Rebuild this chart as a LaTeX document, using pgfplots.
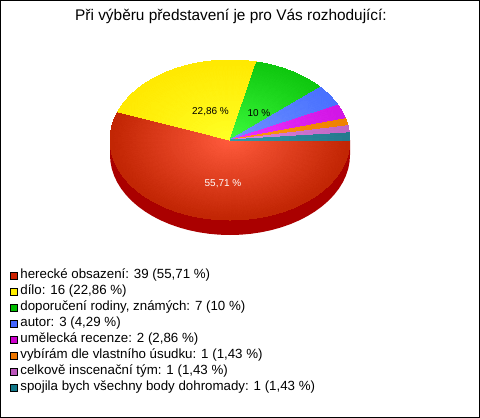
\documentclass[border=0pt]{standalone}
\usepackage{fontspec}
\setmainfont{Liberation Sans}
\usepackage{pgfplots}
\pgfplotsset{compat=1.18}
\definecolor{ri}{RGB}{255,90,60}\definecolor{ro}{RGB}{192,36,2}
\definecolor{yi}{RGB}{255,255,36}\definecolor{yo}{RGB}{255,232,0}
\definecolor{gi}{RGB}{60,250,60}\definecolor{go}{RGB}{14,198,14}
\definecolor{bi}{RGB}{112,146,255}\definecolor{bo}{RGB}{72,112,255}
\definecolor{mi}{RGB}{238,52,255}\definecolor{mo}{RGB}{208,20,228}
\definecolor{oi}{RGB}{255,153,17}\definecolor{oo}{RGB}{238,128,0}
\definecolor{pi}{RGB}{222,136,222}\definecolor{po}{RGB}{190,100,196}
\definecolor{ti}{RGB}{51,153,170}\definecolor{to}{RGB}{34,120,140}
\definecolor{side}{RGB}{170,0,0}
\definecolor{lr}{RGB}{204,34,0}\definecolor{ly}{RGB}{255,238,0}
\definecolor{lg}{RGB}{0,187,0}\definecolor{lb}{RGB}{68,102,255}
\definecolor{lm}{RGB}{204,0,204}\definecolor{lo}{RGB}{238,119,0}
\definecolor{lp}{RGB}{187,85,187}\definecolor{lt}{RGB}{17,119,136}
\begin{document}
\begin{tikzpicture}
\begin{axis}[
  scale only axis, width=479pt, height=417pt,
  xmin=0.5, xmax=479.5, ymin=0.5, ymax=417.5, y dir=reverse,
  xtick=\empty, ytick=\empty, axis line style={line width=1pt, black},
  title={\fontsize{15.4}{18}\selectfont Při výběru představení je pro Vás rozhodující:},
  title style={at={(axis cs:231,22)}, anchor=center, inner sep=0pt, yshift=0pt},
  legend style={at={(axis cs:9.6,267.5)}, anchor=north west, draw=none, fill=none, inner sep=0pt, outer sep=0pt,
    font=\fontsize{13.3}{15}\selectfont, row sep=0pt, column sep=3pt,
    nodes={inner sep=0pt, text height=10.5pt, text depth=5.5pt}},
  legend cell align=left,
]
% side of the pie (rim of the red slice)
\addplot[draw=none, fill=side, forget plot] table[row sep=\\] {
x y\\
350 140\\350 155\\349.54 161.97\\348.18 168.89\\345.91 175.71\\342.76 182.36\\338.76 188.81\\333.92 195\\328.30 200.89\\321.93 206.42\\314.85 211.57\\307.13 216.28\\298.83 220.53\\290 224.28\\280.71 227.50\\271.04 230.18\\261.06 232.27\\250.84 233.78\\240.46 234.70\\230 235\\219.54 234.70\\209.16 233.78\\198.94 232.27\\188.96 230.18\\179.29 227.50\\170 224.28\\161.17 220.53\\152.87 216.28\\145.15 211.57\\138.07 206.42\\131.70 200.89\\126.08 195\\121.24 188.81\\117.24 182.36\\114.09 175.71\\111.82 168.89\\110.46 161.97\\110 155\\110 140\\230 140\\
} -- cycle;
% herecké obsazení: 39
\addplot[patch, shader=interp, mesh/color input=explicit, forget plot] table[meta=c, row sep=\\] {
x y c\\
230 140 color=ri\\350 140 color=ro\\349.54 146.97 color=ro\\
230 140 color=ri\\349.54 146.97 color=ro\\348.18 153.89 color=ro\\
230 140 color=ri\\348.18 153.89 color=ro\\345.91 160.71 color=ro\\
230 140 color=ri\\345.91 160.71 color=ro\\342.76 167.36 color=ro\\
230 140 color=ri\\342.76 167.36 color=ro\\338.76 173.81 color=ro\\
230 140 color=ri\\338.76 173.81 color=ro\\333.92 180 color=ro\\
230 140 color=ri\\333.92 180 color=ro\\328.30 185.89 color=ro\\
230 140 color=ri\\328.30 185.89 color=ro\\321.93 191.42 color=ro\\
230 140 color=ri\\321.93 191.42 color=ro\\314.85 196.57 color=ro\\
230 140 color=ri\\314.85 196.57 color=ro\\307.13 201.28 color=ro\\
230 140 color=ri\\307.13 201.28 color=ro\\298.83 205.53 color=ro\\
230 140 color=ri\\298.83 205.53 color=ro\\290 209.28 color=ro\\
230 140 color=ri\\290 209.28 color=ro\\280.71 212.50 color=ro\\
230 140 color=ri\\280.71 212.50 color=ro\\271.04 215.18 color=ro\\
230 140 color=ri\\271.04 215.18 color=ro\\261.06 217.27 color=ro\\
230 140 color=ri\\261.06 217.27 color=ro\\250.84 218.78 color=ro\\
230 140 color=ri\\250.84 218.78 color=ro\\240.46 219.70 color=ro\\
230 140 color=ri\\240.46 219.70 color=ro\\230 220 color=ro\\
230 140 color=ri\\230 220 color=ro\\219.54 219.70 color=ro\\
230 140 color=ri\\219.54 219.70 color=ro\\209.16 218.78 color=ro\\
230 140 color=ri\\209.16 218.78 color=ro\\198.94 217.27 color=ro\\
230 140 color=ri\\198.94 217.27 color=ro\\188.96 215.18 color=ro\\
230 140 color=ri\\188.96 215.18 color=ro\\179.29 212.50 color=ro\\
230 140 color=ri\\179.29 212.50 color=ro\\170 209.28 color=ro\\
230 140 color=ri\\170 209.28 color=ro\\161.17 205.53 color=ro\\
230 140 color=ri\\161.17 205.53 color=ro\\152.87 201.28 color=ro\\
230 140 color=ri\\152.87 201.28 color=ro\\145.15 196.57 color=ro\\
230 140 color=ri\\145.15 196.57 color=ro\\138.07 191.42 color=ro\\
230 140 color=ri\\138.07 191.42 color=ro\\131.70 185.89 color=ro\\
230 140 color=ri\\131.70 185.89 color=ro\\126.08 180 color=ro\\
230 140 color=ri\\126.08 180 color=ro\\121.24 173.81 color=ro\\
230 140 color=ri\\121.24 173.81 color=ro\\117.24 167.36 color=ro\\
230 140 color=ri\\117.24 167.36 color=ro\\114.09 160.71 color=ro\\
230 140 color=ri\\114.09 160.71 color=ro\\111.82 153.89 color=ro\\
230 140 color=ri\\111.82 153.89 color=ro\\110.46 146.97 color=ro\\
230 140 color=ri\\110.46 146.97 color=ro\\110 140 color=ro\\
230 140 color=ri\\110 140 color=ro\\110.46 133.03 color=ro\\
230 140 color=ri\\110.46 133.03 color=ro\\111.82 126.11 color=ro\\
230 140 color=ri\\111.82 126.11 color=ro\\114.09 119.29 color=ro\\
230 140 color=ri\\114.09 119.29 color=ro\\117.24 112.64 color=ro\\
230 140 color=ri\\117.24 112.64 color=ro\\117.65 111.89 color=ro\\
};
% dílo: 16
\addplot[patch, shader=interp, mesh/color input=explicit, forget plot] table[meta=c, row sep=\\] {
x y c\\
230 140 color=yi\\117.65 111.89 color=yo\\121.24 106.19 color=yo\\
230 140 color=yi\\121.24 106.19 color=yo\\126.08 100 color=yo\\
230 140 color=yi\\126.08 100 color=yo\\131.70 94.11 color=yo\\
230 140 color=yi\\131.70 94.11 color=yo\\138.07 88.58 color=yo\\
230 140 color=yi\\138.07 88.58 color=yo\\145.15 83.43 color=yo\\
230 140 color=yi\\145.15 83.43 color=yo\\152.87 78.72 color=yo\\
230 140 color=yi\\152.87 78.72 color=yo\\161.17 74.47 color=yo\\
230 140 color=yi\\161.17 74.47 color=yo\\170 70.72 color=yo\\
230 140 color=yi\\170 70.72 color=yo\\179.29 67.50 color=yo\\
230 140 color=yi\\179.29 67.50 color=yo\\188.96 64.82 color=yo\\
230 140 color=yi\\188.96 64.82 color=yo\\198.94 62.73 color=yo\\
230 140 color=yi\\198.94 62.73 color=yo\\209.16 61.22 color=yo\\
230 140 color=yi\\209.16 61.22 color=yo\\219.54 60.30 color=yo\\
230 140 color=yi\\219.54 60.30 color=yo\\230 60 color=yo\\
230 140 color=yi\\230 60 color=yo\\240.46 60.30 color=yo\\
230 140 color=yi\\240.46 60.30 color=yo\\250.84 61.22 color=yo\\
230 140 color=yi\\250.84 61.22 color=yo\\256.70 62.01 color=yo\\
};
% doporučení rodiny, známých: 7
\addplot[patch, shader=interp, mesh/color input=explicit, forget plot] table[meta=c, row sep=\\] {
x y c\\
230 140 color=gi\\256.70 62.01 color=go\\261.06 62.73 color=go\\
230 140 color=gi\\261.06 62.73 color=go\\271.04 64.82 color=go\\
230 140 color=gi\\271.04 64.82 color=go\\280.71 67.50 color=go\\
230 140 color=gi\\280.71 67.50 color=go\\290 70.72 color=go\\
230 140 color=gi\\290 70.72 color=go\\298.83 74.47 color=go\\
230 140 color=gi\\298.83 74.47 color=go\\307.13 78.72 color=go\\
230 140 color=gi\\307.13 78.72 color=go\\314.85 83.43 color=go\\
230 140 color=gi\\314.85 83.43 color=go\\320.36 87.36 color=go\\
};
% autor: 3
\addplot[patch, shader=interp, mesh/color input=explicit, forget plot] table[meta=c, row sep=\\] {
x y c\\
230 140 color=bi\\320.36 87.36 color=bo\\321.93 88.58 color=bo\\
230 140 color=bi\\321.93 88.58 color=bo\\328.30 94.11 color=bo\\
230 140 color=bi\\328.30 94.11 color=bo\\333.92 100 color=bo\\
230 140 color=bi\\333.92 100 color=bo\\338.12 105.29 color=bo\\
};
% umělecká recenze: 2
\addplot[patch, shader=interp, mesh/color input=explicit, forget plot] table[meta=c, row sep=\\] {
x y c\\
230 140 color=mi\\338.12 105.29 color=mo\\338.76 106.19 color=mo\\
230 140 color=mi\\338.76 106.19 color=mo\\342.76 112.64 color=mo\\
230 140 color=mi\\342.76 112.64 color=mo\\345.68 118.72 color=mo\\
};
% vybírám dle vlastního úsudku: 1
\addplot[patch, shader=interp, mesh/color input=explicit, forget plot] table[meta=c, row sep=\\] {
x y c\\
230 140 color=oi\\345.68 118.72 color=oo\\345.91 119.29 color=oo\\
230 140 color=oi\\345.91 119.29 color=oo\\348.07 125.72 color=oo\\
};
% celkově inscenační tým: 1
\addplot[patch, shader=interp, mesh/color input=explicit, forget plot] table[meta=c, row sep=\\] {
x y c\\
230 140 color=pi\\348.07 125.72 color=po\\348.18 126.11 color=po\\
230 140 color=pi\\348.18 126.11 color=po\\349.52 132.83 color=po\\
};
% spojila bych všechny body dohromady: 1
\addplot[patch, shader=interp, mesh/color input=explicit, forget plot] table[meta=c, row sep=\\] {
x y c\\
230 140 color=ti\\349.52 132.83 color=to\\349.54 133.03 color=to\\
230 140 color=ti\\349.54 133.03 color=to\\350 140 color=to\\
};
\node[font=\fontsize{10}{12}\selectfont, text=white] at (axis cs:223,184) {55,71 \%};
\node[font=\fontsize{10}{12}\selectfont] at (axis cs:210.5,112) {22,86 \%};
\node[font=\fontsize{10}{12}\selectfont] at (axis cs:259,113) {10 \%};
\pgfplotsset{swatch/.style={legend image code/.code={\draw[fill=#1, draw=black, line width=0.8pt] (0pt,-3.5pt) rectangle (7pt,3.5pt);}}}
\addlegendimage{swatch=lr}
\addlegendentry{herecké obsazení: 39 (55,71 \%)}
\addlegendimage{swatch=ly}
\addlegendentry{dílo: 16 (22,86 \%)}
\addlegendimage{swatch=lg}
\addlegendentry{doporučení rodiny, známých: 7 (10 \%)}
\addlegendimage{swatch=lb}
\addlegendentry{autor: 3 (4,29 \%)}
\addlegendimage{swatch=lm}
\addlegendentry{umělecká recenze: 2 (2,86 \%)}
\addlegendimage{swatch=lo}
\addlegendentry{vybírám dle vlastního úsudku: 1 (1,43 \%)}
\addlegendimage{swatch=lp}
\addlegendentry{celkově inscenační tým: 1 (1,43 \%)}
\addlegendimage{swatch=lt}
\addlegendentry{spojila bych všechny body dohromady: 1 (1,43 \%)}
\end{axis}
\end{tikzpicture}
\end{document}
